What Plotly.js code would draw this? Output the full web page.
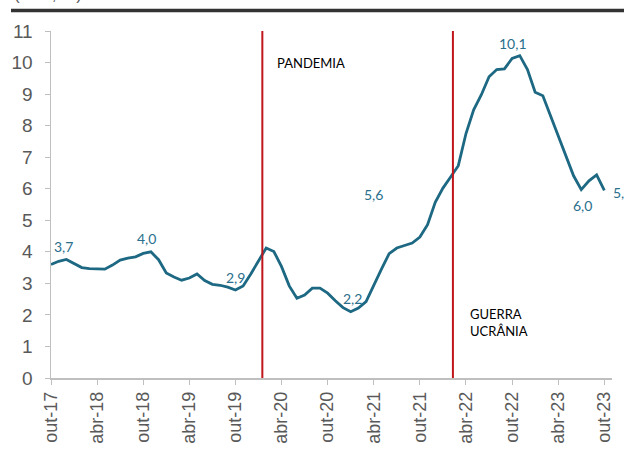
<!DOCTYPE html>
<html>
<head>
<meta charset="utf-8">
<script src="https://cdn.plot.ly/plotly-3.0.1.min.js"></script>
<style>
  html, body { margin: 0; padding: 0; background: #fff; }
  #chart { width: 624px; height: 455px; }
</style>
</head>
<body>
<div id="chart"></div>
<script>
// meses de out-17 a out-23
const months = [
  "out-17","nov-17","dez-17","jan-18","fev-18","mar-18","abr-18","mai-18","jun-18","jul-18","ago-18","set-18",
  "out-18","nov-18","dez-18","jan-19","fev-19","mar-19","abr-19","mai-19","jun-19","jul-19","ago-19","set-19",
  "out-19","nov-19","dez-19","jan-20","fev-20","mar-20","abr-20","mai-20","jun-20","jul-20","ago-20","set-20",
  "out-20","nov-20","dez-20","jan-21","fev-21","mar-21","abr-21","mai-21","jun-21","jul-21","ago-21","set-21",
  "out-21","nov-21","dez-21","jan-22","fev-22","mar-22","abr-22","mai-22","jun-22","jul-22","ago-22","set-22",
  "out-22","nov-22","dez-22","jan-23","fev-23","mar-23","abr-23","mai-23","jun-23","jul-23","ago-23","set-23",
  "out-23"
];

const values = [
  3.60, 3.70, 3.76, 3.62, 3.50, 3.47, 3.47, 3.45, 3.58, 3.74, 3.80, 3.84,
  3.95, 4.00, 3.75, 3.33, 3.20, 3.10, 3.17, 3.30, 3.09, 2.97, 2.94, 2.88,
  2.79, 2.92, 3.30, 3.70, 4.12, 4.01, 3.53, 2.92, 2.53, 2.63, 2.85, 2.85,
  2.69, 2.45, 2.23, 2.10, 2.22, 2.42, 2.95, 3.45, 3.94, 4.12, 4.20, 4.28,
  4.47, 4.86, 5.57, 6.02, 6.37, 6.73, 7.75, 8.50, 8.98, 9.55, 9.78, 9.80,
  10.13, 10.22, 9.78, 9.06, 8.95, 8.30, 7.65, 7.00, 6.41, 5.97, 6.25, 6.44,
  5.95
];

const tickLabels = ["out-17","abr-18","out-18","abr-19","out-19","abr-20","out-20","abr-21","out-21","abr-22","out-22","abr-23","out-23"];

// rótulos de dados: [índice do mês, texto]
const labelIdx = [0, 13, 24, 39, 50, 60, 69, 72];
const labelTxt = ["3,7", "4,0", "2,9", "2,2", "5,6", "10,1", "6,0", "5,9"];

// eventos (posição em meses desde out-17)
const eventPos = [27.5, 52.3];
const eventTxt = ["PANDEMIA", "GUERRA<br>UCRÂNIA"];

const x = months.map((m, i) => i);
const tickVals = tickLabels.map(t => months.indexOf(t));

const lineColor = "#1d6882";
const red = "#c0151b";

const trace = {
  x: x,
  y: values,
  type: "scatter",
  mode: "lines",
  line: { color: lineColor, width: 2.8 },
  hoverinfo: "skip"
};

// deslocamentos dos rótulos em px
const labelShift = {
  "3,7": [12, 18], "4,0": [-4, 13], "2,9": [0, 12], "2,2": [2, 13],
  "5,6": [-62, 8], "10,1": [1, 15], "6,0": [1, -16], "5,9": [18, -2]
};

const annotations = labelIdx.map((idx, k) => ({
  x: idx, y: values[idx], xref: "x", yref: "y",
  text: labelTxt[k], showarrow: false,
  xshift: labelShift[labelTxt[k]][0], yshift: labelShift[labelTxt[k]][1],
  font: { family: "Lato, 'Open Sans', sans-serif", size: 14, color: "#2a6f8c" }
}));

annotations.push({
  x: eventPos[0] + 1.6, y: 10.0, xref: "x", yref: "y", xanchor: "left",
  text: eventTxt[0], showarrow: false,
  font: { family: "Lato, 'Open Sans', sans-serif", size: 13, color: "#000" }
});
annotations.push({
  x: eventPos[1] + 1.9, y: 1.75, xref: "x", yref: "y", xanchor: "left", align: "left",
  text: eventTxt[1], showarrow: false,
  font: { family: "Lato, 'Open Sans', sans-serif", size: 13, color: "#000" }
});
// título cortado no topo
annotations.push({
  x: -0.0695, y: 1.072, xref: "paper", yref: "paper", xanchor: "left", yanchor: "bottom",
  text: "(taxa, %)", showarrow: false,
  font: { family: "Liberation Sans, Arial, sans-serif", size: 17, color: "#595959" }
});

const shapes = eventPos.map(p => ({
  type: "line", xref: "x", yref: "y", x0: p, x1: p, y0: 0, y1: 11,
  line: { color: red, width: 2 }
}));
shapes.push({
  type: "line", xref: "paper", yref: "paper", x0: -0.0713, x1: 1.03, y0: 1.059, y1: 1.059,
  line: { color: "#333333", width: 3.5 }
});

const layout = {
  width: 624,
  height: 455,
  margin: { l: 51, r: 12, t: 31, b: 77 },
  paper_bgcolor: "#ffffff",
  plot_bgcolor: "#ffffff",
  showlegend: false,
  font: { family: "Liberation Sans, Arial, sans-serif", color: "#595959" },
  xaxis: {
    range: [0, 73],
    tickvals: tickVals,
    ticktext: tickLabels,
    tickangle: -90,
    tickfont: { size: 18, color: "#595959" },
    showgrid: false,
    zeroline: false,
    showline: true,
    linecolor: "#bfbfbf",
    linewidth: 1.5,
    ticks: "outside",
    ticklen: 5,
    tickcolor: "#bfbfbf",
    fixedrange: true
  },
  yaxis: {
    range: [0, 11],
    dtick: 1,
    tickfont: { size: 19, color: "#595959" },
    ticklabelstandoff: 8,
    showgrid: false,
    zeroline: false,
    showline: true,
    linecolor: "#bfbfbf",
    linewidth: 1.5,
    ticks: "outside",
    ticklen: 5,
    tickcolor: "#bfbfbf",
    fixedrange: true
  },
  annotations: annotations,
  shapes: shapes
};

Plotly.newPlot("chart", [trace], layout, { displayModeBar: false, staticPlot: true });
</script>
</body>
</html>
